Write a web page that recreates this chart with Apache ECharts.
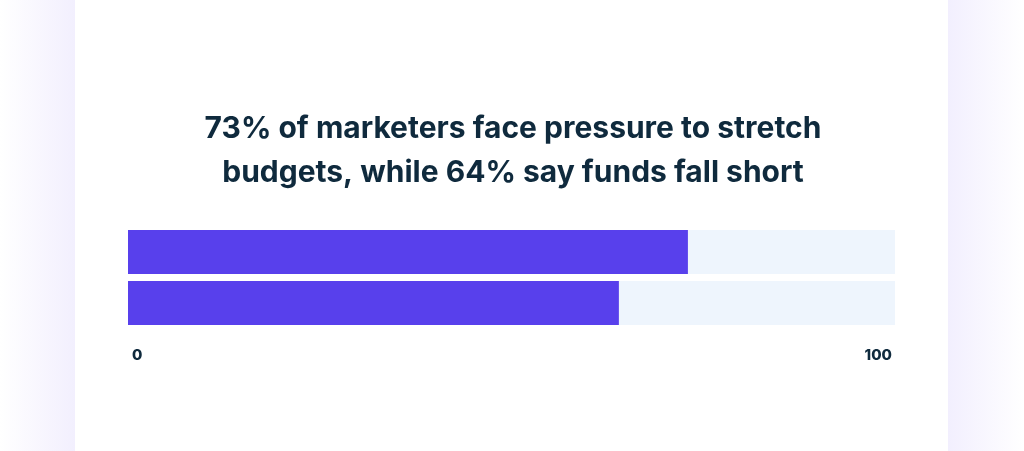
<!DOCTYPE html>
<html>
<head>
<meta charset="utf-8">
<script src="https://cdn.jsdelivr.net/npm/echarts@6/dist/echarts.min.js"></script>
<style>
  html, body { margin: 0; padding: 0; }
  body {
    width: 1024px; height: 451px; overflow: hidden;
    background: linear-gradient(to right, #ffffff 0px, #f2effe 75px, #ffffff 75px, #ffffff 948px, #f2effe 948px, #ffffff 1024px);
  }
  #chart { position: absolute; left: 0; top: 0; width: 1024px; height: 451px; }
</style>
</head>
<body>
<div id="chart"></div>
<script>
// data
const categories = ['Pressure to stretch budgets', 'Funds fall short'];
const values = [73, 64];
const axisTicks = [0, 100];

const getOption = () => {
  return {
    title: {
      text: '73% of marketers face pressure to stretch\nbudgets, while 64% say funds fall short',
      left: 508,
      top: 102,
      textAlign: 'center',
      textStyle: {
        fontFamily: 'Inter',
        fontSize: 30,
        fontWeight: 'bold',
        color: '#0f2a3d',
        lineHeight: 44
      }
    },
    grid: { left: 128, right: 129, top: 226.5, height: 102 },
    xAxis: {
      type: 'value',
      min: axisTicks[0],
      max: axisTicks[1],
      interval: 100,
      splitLine: { show: false },
      axisLine: { show: false },
      axisTick: { show: false },
      axisLabel: {
        margin: 19,
        alignMinLabel: 'left',
        alignMaxLabel: 'right',
        padding: [0, 3, 0, 4],
        fontFamily: 'Inter',
        fontSize: 15,
        fontWeight: 800,
        color: '#0f2a3d'
      }
    },
    yAxis: {
      type: 'category',
      data: categories,
      inverse: true,
      show: false
    },
    series: [{
      type: 'bar',
      data: values,
      barWidth: 44,
      itemStyle: { color: '#5840ec' },
      showBackground: true,
      backgroundStyle: { color: '#eef5fd' },
      silent: true
    }]
  };
};

window.addEventListener('load', () => {
  const chart = echarts.init(document.getElementById('chart'));
  chart.setOption(getOption());
});
</script>
</body>
</html>
